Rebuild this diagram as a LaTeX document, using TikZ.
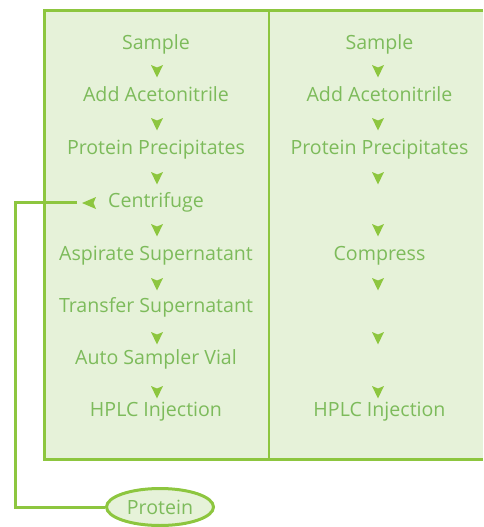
\documentclass[tikz,border=0pt]{standalone}
\usepackage{fontspec}
\setmainfont{Open Sans}
\usetikzlibrary{shapes.geometric}
\definecolor{boxfill}{HTML}{E6F2D9}
\definecolor{lgreen}{HTML}{8DC63F}
\definecolor{tgreen}{HTML}{7DBB5B}
\tikzset{
  lbl/.style={text=tgreen, font=\fontsize{19.6}{22}\selectfont, anchor=base, inner sep=0pt},
  downtri/.pic={\fill[lgreen] (-6,0) -- (0,2.5) -- (6,0) -- (0,12.5) -- cycle;},
  lefttri/.pic={\fill[lgreen] (0,0) -- (14,-6) -- (11.5,0) -- (14,6) -- cycle;},
  wire/.style={draw=lgreen, line width=3pt},
}
\begin{document}
\begin{tikzpicture}[x=1pt,y=-1pt]
\useasboundingbox (0,0) rectangle (483,527);
% panel
\fill[boxfill] (44,11) rectangle (483,459);
\draw[lgreen, line width=3pt] (483,11) -- (44,11) -- (44,459) -- (483,459);
\draw[lgreen, line width=2.2pt] (269,11) -- (269,459);
% left column
\node[lbl] (l1) at (156,49) {Sample};
\node[lbl] (l2) at (156,101) {Add Acetonitrile};
\node[lbl] (l3) at (156,154) {Protein Precipitates};
\node[lbl] (l4) at (156,207) {Centrifuge};
\node[lbl] (l5) at (156,260) {Aspirate Supernatant};
\node[lbl] (l6) at (156,312) {Transfer Supernatant};
\node[lbl] (l7) at (156,364) {Auto Sampler Vial};
\node[lbl] (l8) at (156,416) {HPLC Injection};
% right column
\node[lbl] (r1) at (379.5,49) {Sample};
\node[lbl] (r2) at (379.5,101) {Add Acetonitrile};
\node[lbl] (r3) at (379.5,154) {Protein Precipitates};
\node[lbl] (r5) at (379.5,260) {Compress};
\node[lbl] (r8) at (379.5,416) {HPLC Injection};
% arrows
\foreach \y in {65,118,172,224,278,332,386}{
  \pic at (157,\y) {downtri};
  \pic at (378,\y) {downtri};
}
\pic at (82,203) {lefttri};
% protein branch
\node[ellipse, draw=lgreen, line width=3pt, fill=boxfill, minimum width=107pt, minimum height=37pt, inner sep=0pt, text=tgreen, font=\fontsize{19.6}{22}\selectfont] (prot) at (160,507) {Protein};
\coordinate (c) at (77,202);
\draw[wire] (c) -- (15,202) |- (prot.west);
\end{tikzpicture}
\end{document}
